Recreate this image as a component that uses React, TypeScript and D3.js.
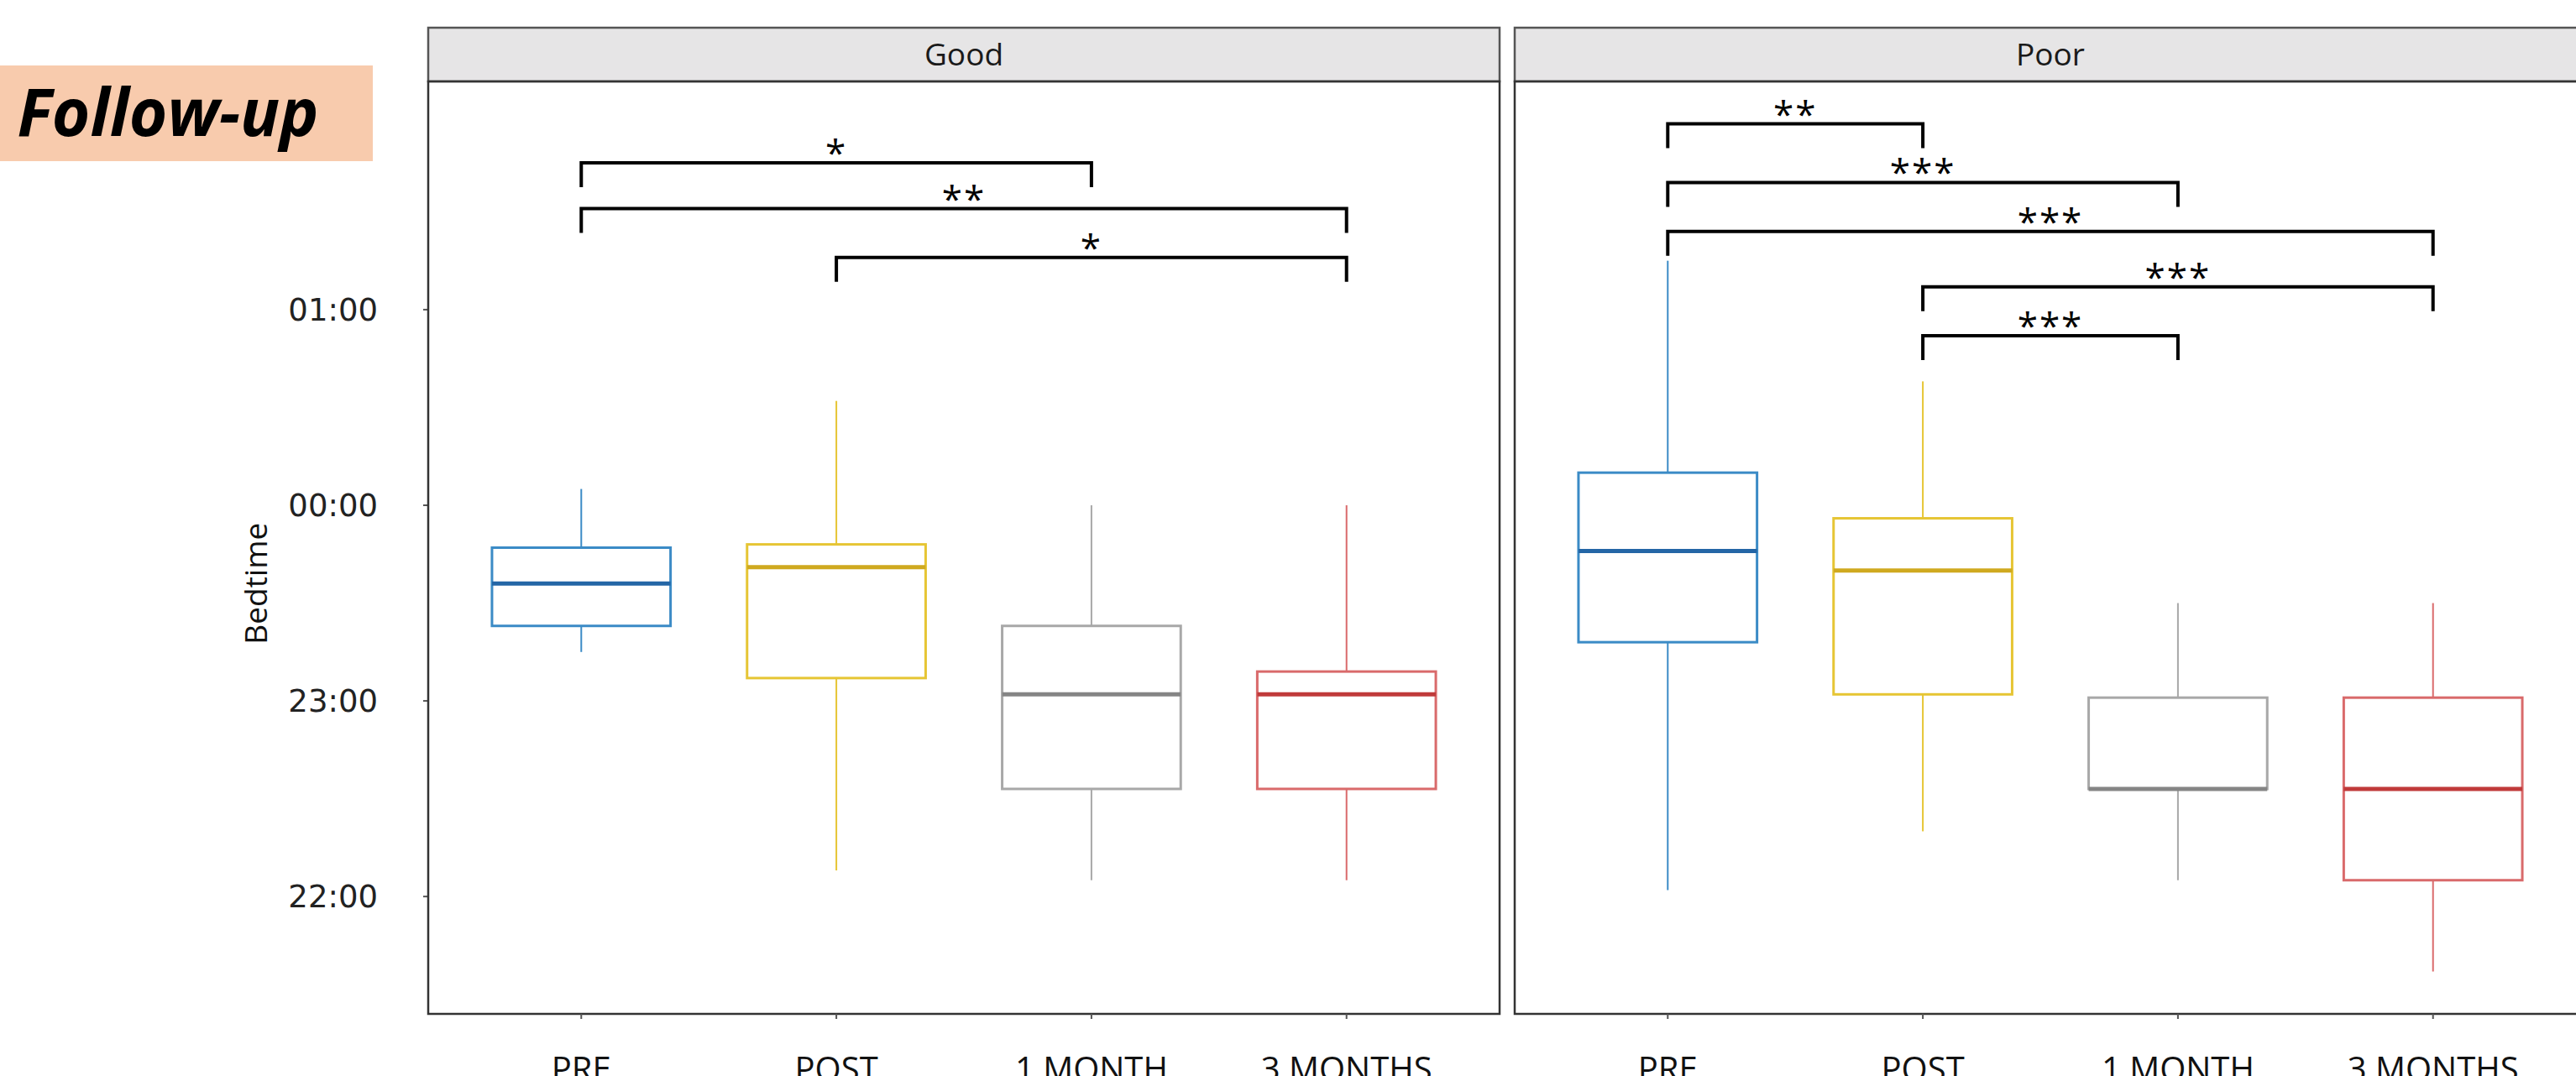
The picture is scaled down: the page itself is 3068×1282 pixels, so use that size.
import React, { useEffect, useRef } from 'react';
import * as d3 from 'd3';

// categories and facets
const timepoints = ['PRE', 'POST', '1 MONTH', '3 MONTHS'];
const facets = ['Good', 'Poor'];

// box stats per timepoint: [lower whisker, Q1, median, Q3, upper whisker]
const goodStats = [
  ['23:15', '23:23', '23:36', '23:47', '00:05'],
  ['22:08', '23:07', '23:41', '23:48', '00:32'],
  ['22:05', '22:33', '23:02', '23:23', '00:00'],
  ['22:05', '22:33', '23:02', '23:09', '00:00'],
];
const poorStats = [
  ['22:02', '23:18', '23:46', '00:10', '01:15'],
  ['22:20', '23:02', '23:40', '23:56', '00:38'],
  ['22:05', '22:33', '22:33', '23:01', '23:30'],
  ['21:37', '22:05', '22:33', '23:01', '23:30'],
];

// significance brackets: [from, to, label, height]
const goodSignif = [
  ['PRE', '1 MONTH', '*', '01:45'],
  ['PRE', '3 MONTHS', '**', '01:31'],
  ['POST', '3 MONTHS', '*', '01:16'],
];
const poorSignif = [
  ['PRE', 'POST', '**', '01:57'],
  ['PRE', '1 MONTH', '***', '01:39'],
  ['PRE', '3 MONTHS', '***', '01:24'],
  ['POST', '3 MONTHS', '***', '01:07'],
  ['POST', '1 MONTH', '***', '00:52'],
];

const yTicks = ['22:00', '23:00', '00:00', '01:00'];

const boxColors = ['#3b8bc6', '#e6c534', '#a8a8a8', '#d96a6b'];
const medianColors = ['#2466a6', '#cfa91f', '#858585', '#c03a3a'];

// minutes relative to midnight (evening hours negative)
const toMin = (s: string) => {
  const [h, m] = s.split(':').map(Number);
  const v = h * 60 + m;
  return h >= 12 ? v - 1440 : v;
};

export default function App() {
  const svgRef = useRef<SVGSVGElement>(null);

  useEffect(() => {
    if (!svgRef.current) return;
    const svg = d3.select(svgRef.current);
    svg.selectAll('*').remove();

    const W = 3068;
    const H = 1282;
    svg.attr('width', W).attr('height', H);
    svg.append('rect').attr('width', W).attr('height', H).attr('fill', '#fff');

    const stripTop = 33;
    const plotTop = 97;
    const plotBottom = 1208;
    const panelW = 1276;
    const panelX = [510, 1804];

    const y = d3.scaleLinear().domain([-156, 130]).range([plotBottom, plotTop]);

    // Follow-up tag
    svg.append('rect')
      .attr('x', 0).attr('y', 78).attr('width', 444).attr('height', 114)
      .attr('fill', '#f8cbad');
    svg.append('text')
      .attr('x', 200).attr('y', 162)
      .attr('text-anchor', 'middle')
      .style('font-family', '"Open Sans", sans-serif')
      .style('font-weight', '700')
      .style('font-style', 'italic')
      .style('font-size', '78px')
      .attr('fill', '#000')
      .text('Follow-up');

    // y axis labels
    const yAxis = svg.append('g');
    yTicks.forEach(t => {
      yAxis.append('text')
        .attr('x', 450).attr('y', y(toMin(t)))
        .attr('dy', '0.36em')
        .attr('text-anchor', 'end')
        .style('font-family', '"DejaVu Sans", sans-serif')
        .style('font-size', '37px')
        .attr('fill', '#222')
        .text(t);
      yAxis.append('line')
        .attr('x1', 504).attr('x2', 510)
        .attr('y1', y(toMin(t))).attr('y2', y(toMin(t)))
        .attr('stroke', '#555').attr('stroke-width', 2);
    });

    svg.append('text')
      .attr('transform', `translate(318,${y(-24)}) rotate(-90)`)
      .attr('text-anchor', 'middle')
      .style('font-family', '"Open Sans", sans-serif')
      .style('font-size', '37px')
      .attr('fill', '#111')
      .text('Bedtime');

    const panels = [
      { name: facets[0], stats: goodStats, signif: goodSignif },
      { name: facets[1], stats: poorStats, signif: poorSignif },
    ];

    panels.forEach((p, pi) => {
      const x0 = panelX[pi];
      const g = svg.append('g');
      const x = d3.scalePoint<string>()
        .domain(timepoints)
        .range([x0, x0 + panelW])
        .padding(0.6);
      const boxW = x.step() * 0.7;

      // strip
      g.append('rect')
        .attr('x', x0).attr('y', stripTop)
        .attr('width', panelW).attr('height', plotTop - stripTop)
        .attr('fill', '#e6e5e6')
        .attr('stroke', '#555').attr('stroke-width', 2.5);
      g.append('text')
        .attr('x', x0 + panelW / 2).attr('y', (stripTop + plotTop) / 2)
        .attr('dy', '0.35em')
        .attr('text-anchor', 'middle')
        .style('font-family', '"Open Sans", sans-serif')
        .style('font-size', '37px')
        .attr('fill', '#1a1a1a')
        .text(p.name);

      // panel frame
      g.append('rect')
        .attr('x', x0).attr('y', plotTop)
        .attr('width', panelW).attr('height', plotBottom - plotTop)
        .attr('fill', 'none')
        .attr('stroke', '#333').attr('stroke-width', 2.5);

      // boxes
      p.stats.forEach((s, i) => {
        const [lo, q1, med, q3, hi] = s.map(toMin);
        const cx = x(timepoints[i]) as number;
        const col = boxColors[i];
        g.append('line')
          .attr('x1', cx).attr('x2', cx)
          .attr('y1', y(hi)).attr('y2', y(q3))
          .attr('stroke', col).attr('stroke-width', 2);
        g.append('line')
          .attr('x1', cx).attr('x2', cx)
          .attr('y1', y(q1)).attr('y2', y(lo))
          .attr('stroke', col).attr('stroke-width', 2);
        g.append('rect')
          .attr('x', cx - boxW / 2).attr('y', y(q3))
          .attr('width', boxW).attr('height', y(q1) - y(q3))
          .attr('fill', 'none')
          .attr('stroke', col).attr('stroke-width', 3);
        g.append('line')
          .attr('x1', cx - boxW / 2).attr('x2', cx + boxW / 2)
          .attr('y1', y(med)).attr('y2', y(med))
          .attr('stroke', medianColors[i]).attr('stroke-width', 5);

        // x tick + label
        g.append('line')
          .attr('x1', cx).attr('x2', cx)
          .attr('y1', plotBottom).attr('y2', plotBottom + 6)
          .attr('stroke', '#555').attr('stroke-width', 2);
        g.append('text')
          .attr('x', cx).attr('y', 1288)
          .attr('text-anchor', 'middle')
          .style('font-family', '"Open Sans", sans-serif')
          .style('font-size', '40px')
          .attr('fill', '#111')
          .text(timepoints[i]);
      });

      // significance brackets
      p.signif.forEach(([a, b, lab, h]) => {
        const xa = x(a) as number;
        const xb = x(b) as number;
        const yy = y(toMin(h));
        g.append('path')
          .attr('d', `M${xa},${yy + 29}V${yy}H${xb}V${yy + 29}`)
          .attr('fill', 'none')
          .attr('stroke', '#000')
          .attr('stroke-width', 4);
        g.append('text')
          .attr('x', (xa + xb) / 2).attr('y', yy + 4)
          .attr('text-anchor', 'middle')
          .style('font-family', '"Open Sans", sans-serif')
          .style('font-size', '44px')
          .style('letter-spacing', '2px')
          .attr('fill', '#000')
          .text(lab);
      });
    });
  }, []);

  return (
    <div style={{ position: 'absolute', left: 0, top: 0 }}>
      <svg ref={svgRef} style={{ display: 'block' }} />
    </div>
  );
}
